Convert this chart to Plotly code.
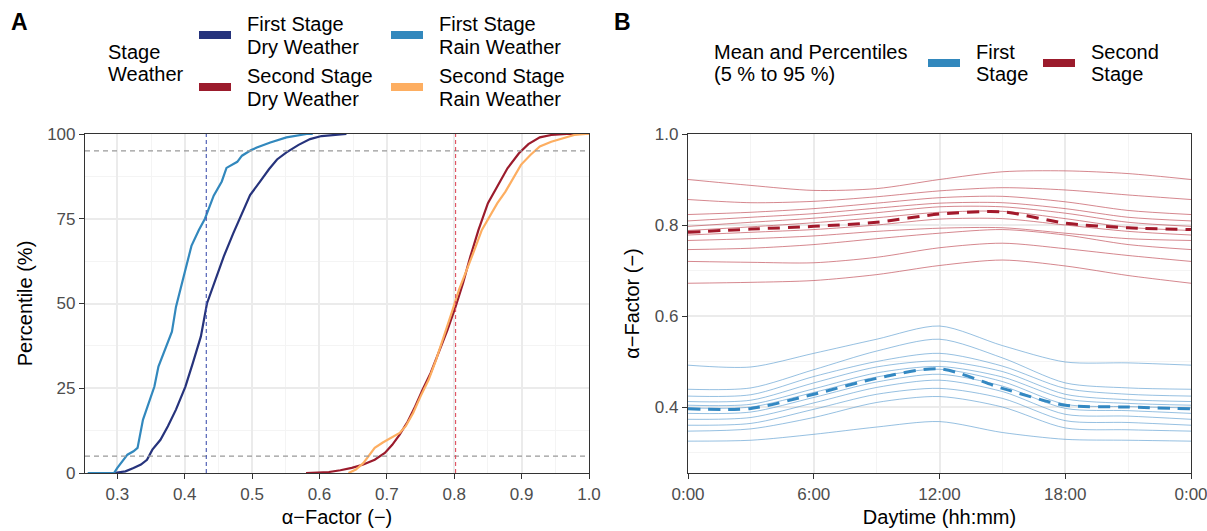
import plotly.graph_objects as go

W, H = 1207, 531

# ---------------- Panel A: cumulative distributions of the alpha factor ----------------
first_dry_x = [0.295, 0.312, 0.324, 0.335, 0.344, 0.352, 0.364, 0.375, 0.387, 0.401, 0.412, 0.424, 0.433,
               0.444, 0.458, 0.472, 0.486, 0.497, 0.512, 0.525, 0.537, 0.551, 0.569, 0.586, 0.603, 0.626, 0.640]
first_dry_p = [0, 0.5, 1.5, 2.5, 3.9, 6.9, 9.8, 13.8, 18.7, 25.5, 32.4, 40.3, 50,
               56, 63.9, 70.7, 77.0, 82, 86, 89.6, 92.5, 94.6, 96.8, 98.5, 99.4, 99.9, 100]

first_rain_x = [0.256, 0.295, 0.300, 0.307, 0.315, 0.324, 0.330, 0.338, 0.347, 0.355, 0.361, 0.369, 0.381,
                0.387, 0.400, 0.410, 0.421, 0.430, 0.443, 0.455, 0.462, 0.478, 0.485, 0.498, 0.507, 0.527,
                0.551, 0.570, 0.581, 0.590]
first_rain_p = [0, 0, 1.5, 3.4, 5.4, 6.4, 7.4, 15.7, 20.6, 25.5, 31.4, 35.4, 41.7,
                49, 59, 67, 71.7, 75, 81.8, 86, 90, 91.8, 93.6, 95.2, 96, 97.5,
                99, 99.5, 100, 100]

second_dry_x = [0.580, 0.614, 0.631, 0.648, 0.665, 0.682, 0.697, 0.708, 0.719, 0.731, 0.742, 0.753, 0.765,
                0.779, 0.790, 0.802, 0.813, 0.824, 0.836, 0.850, 0.865, 0.879, 0.896, 0.910, 0.927, 0.944,
                0.967, 1.000]
second_dry_p = [0, 0.3, 0.8, 1.5, 2.5, 3.9, 5.9, 8.3, 11.3, 15.2, 19.6, 24.6, 29.5,
                36.3, 42.2, 49.1, 56, 63.9, 71.7, 79.6, 85, 89.9, 94.3, 97, 99, 99.7,
                100, 100]

second_rain_x = [0.643, 0.654, 0.665, 0.674, 0.682, 0.694, 0.705, 0.719, 0.728, 0.739, 0.750, 0.762, 0.773,
                 0.785, 0.796, 0.807, 0.819, 0.830, 0.841, 0.853, 0.864, 0.876, 0.887, 0.899, 0.913, 0.927,
                 0.944, 0.961, 0.978, 0.995, 1.000]
second_rain_p = [0, 1, 2.9, 5.4, 7.4, 9, 10.3, 11.8, 13.8, 17.7, 22.6, 27.5, 33.4,
                 40.3, 47.2, 54, 59.9, 65.8, 71.7, 75.6, 79.6, 83, 86.9, 90.9, 93.8, 96.3,
                 97.7, 98.7, 99.7, 100, 100]

percentile_marks = [5, 95]           # horizontal reference levels (%)
stage_alpha = [0.432, 0.802]         # vertical reference alpha per stage

# ---------------- Panel B: daily course of alpha (mean and percentiles) ----------------
hours = [0, 3, 6, 9, 12, 15, 18, 21, 24]
hour_ticks = [0, 6, 12, 18, 24]
hour_labels = ["0:00", "6:00", "12:00", "18:00", "0:00"]

second_pct = {
    95: [0.900, 0.887, 0.876, 0.880, 0.900, 0.917, 0.919, 0.913, 0.900],
    90: [0.856, 0.849, 0.852, 0.862, 0.875, 0.882, 0.877, 0.866, 0.856],
    80: [0.823, 0.828, 0.836, 0.848, 0.860, 0.863, 0.851, 0.832, 0.823],
    70: [0.809, 0.817, 0.825, 0.837, 0.848, 0.849, 0.836, 0.817, 0.809],
    60: [0.797, 0.806, 0.815, 0.827, 0.840, 0.840, 0.826, 0.806, 0.797],
    50: [0.788, 0.796, 0.805, 0.816, 0.828, 0.830, 0.814, 0.795, 0.788],
    40: [0.778, 0.784, 0.790, 0.800, 0.813, 0.814, 0.800, 0.786, 0.778],
    30: [0.766, 0.770, 0.776, 0.786, 0.793, 0.794, 0.782, 0.770, 0.766],
    20: [0.746, 0.749, 0.757, 0.770, 0.782, 0.790, 0.778, 0.757, 0.746],
    10: [0.720, 0.718, 0.717, 0.729, 0.750, 0.760, 0.748, 0.733, 0.720],
    5:  [0.672, 0.674, 0.678, 0.691, 0.711, 0.723, 0.710, 0.689, 0.672],
}
second_mean = [0.784, 0.791, 0.797, 0.806, 0.824, 0.829, 0.804, 0.794, 0.790]

first_pct = {
    95: [0.492, 0.488, 0.518, 0.549, 0.578, 0.535, 0.499, 0.497, 0.492],
    90: [0.439, 0.442, 0.482, 0.523, 0.549, 0.508, 0.453, 0.442, 0.439],
    80: [0.424, 0.427, 0.467, 0.500, 0.518, 0.490, 0.441, 0.428, 0.424],
    70: [0.412, 0.415, 0.453, 0.488, 0.501, 0.478, 0.428, 0.416, 0.412],
    60: [0.404, 0.406, 0.440, 0.475, 0.489, 0.466, 0.418, 0.408, 0.404],
    50: [0.398, 0.400, 0.432, 0.466, 0.483, 0.456, 0.406, 0.401, 0.398],
    40: [0.386, 0.389, 0.421, 0.455, 0.472, 0.446, 0.397, 0.392, 0.386],
    30: [0.373, 0.377, 0.409, 0.443, 0.459, 0.434, 0.384, 0.380, 0.373],
    20: [0.360, 0.364, 0.395, 0.428, 0.441, 0.419, 0.370, 0.366, 0.360],
    10: [0.347, 0.352, 0.377, 0.410, 0.423, 0.400, 0.354, 0.350, 0.347],
    5:  [0.325, 0.327, 0.340, 0.356, 0.368, 0.344, 0.329, 0.327, 0.325],
}
first_mean = [0.396, 0.397, 0.428, 0.463, 0.484, 0.441, 0.404, 0.400, 0.396]

# ---------------- styling ----------------
NAVY = "#26337c"
SKY = "#3288bd"
CRIMSON = "#9b1b2c"
APRICOT = "#fdae61"
FONT = "Liberation Sans"
TICK_COL = "#4d4d4d"
GRID = "#ebebeb"
GRID_MINOR = "#f4f4f4"


def px_x(x):
    return x / W


def px_y(y):
    return 1 - y / H


fig = go.Figure()

for xs, ps, col, name in [
    (first_dry_x, first_dry_p, NAVY, "First Stage Dry Weather"),
    (first_rain_x, first_rain_p, SKY, "First Stage Rain Weather"),
    (second_dry_x, second_dry_p, CRIMSON, "Second Stage Dry Weather"),
    (second_rain_x, second_rain_p, APRICOT, "Second Stage Rain Weather"),
]:
    fig.add_trace(go.Scatter(x=xs, y=ps, mode="lines", name=name, showlegend=False,
                             line=dict(color=col, width=2.2), xaxis="x", yaxis="y"))

for lvl in percentile_marks:
    fig.add_shape(type="line", xref="x", yref="y", x0=0.252, x1=1.0, y0=lvl, y1=lvl,
                  line=dict(color="#999999", width=1.2, dash="5px,4px"), layer="above")
for a, col in zip(stage_alpha, ["#4455b0", "#e0505f"]):
    fig.add_shape(type="line", xref="x", yref="y", x0=a, x1=a, y0=0, y1=100,
                  line=dict(color=col, width=1.1, dash="4px,3px"), layer="above")

for pcts, mean, thin, thick in [
    (second_pct, second_mean, "rgba(190,70,82,0.65)", "#a3192b"),
    (first_pct, first_mean, "rgba(80,150,205,0.6)", "#3388c2"),
]:
    for p, vals in pcts.items():
        fig.add_trace(go.Scatter(x=hours, y=vals, mode="lines", showlegend=False,
                                 line=dict(color=thin, width=1, shape="spline", smoothing=0.8),
                                 xaxis="x2", yaxis="y2"))
    fig.add_trace(go.Scatter(x=hours, y=mean, mode="lines", showlegend=False,
                             line=dict(color=thick, width=3, dash="12px,8px", shape="spline", smoothing=0.8),
                             xaxis="x2", yaxis="y2"))

axis_common = dict(showline=True, linecolor="#333333", linewidth=1.2, mirror=True,
                   ticks="outside", ticklen=5, tickcolor="#333333", tickwidth=1.2,
                   showgrid=True, gridcolor=GRID, gridwidth=1.6, zeroline=False,
                   automargin=False, ticklabeloverflow="allow",
                   tickfont=dict(family=FONT, size=17, color=TICK_COL),
                   title_font=dict(family=FONT, size=20, color="#000000"))

xdomA = [px_x(85), px_x(589)]
xdomB = [px_x(688), px_x(1191)]
ydom = [px_y(473), px_y(134)]

fig.update_layout(
    width=W, height=H,
    margin=dict(l=0, r=0, t=0, b=0),
    paper_bgcolor="white", plot_bgcolor="white",
    template="none",
    showlegend=False,
    xaxis=dict(axis_common, domain=xdomA, range=[0.252, 1.0],
               tickvals=[0.3, 0.4, 0.5, 0.6, 0.7, 0.8, 0.9, 1.0],
               ticktext=["0.3", "0.4", "0.5", "0.6", "0.7", "0.8", "0.9", "1.0"],
               minor=dict(tickvals=[0.35, 0.45, 0.55, 0.65, 0.75, 0.85, 0.95], showgrid=True,
                          gridcolor=GRID_MINOR, gridwidth=1, ticks=""),
               title=dict(text="α−Factor (−)", standoff=7), anchor="y"),
    yaxis=dict(axis_common, domain=ydom, range=[0, 100],
               tickvals=[0, 25, 50, 75, 100],
               minor=dict(tickvals=[12.5, 37.5, 62.5, 87.5], showgrid=True,
                          gridcolor=GRID_MINOR, gridwidth=1, ticks=""),
               title=dict(text="Percentile (%)", standoff=9), anchor="x"),
    xaxis2=dict(axis_common, domain=xdomB, range=[0, 24],
                tickvals=hour_ticks, ticktext=hour_labels,
                minor=dict(tickvals=[3, 9, 15, 21], showgrid=True,
                           gridcolor=GRID_MINOR, gridwidth=1, ticks=""),
                title=dict(text="Daytime (hh:mm)", standoff=7), anchor="y2"),
    yaxis2=dict(axis_common, domain=ydom, range=[0.255, 1.0],
                tickvals=[0.4, 0.6, 0.8, 1.0], ticktext=["0.4", "0.6", "0.8", "1.0"],
                minor=dict(tickvals=[0.3, 0.5, 0.7, 0.9], showgrid=True,
                           gridcolor=GRID_MINOR, gridwidth=1, ticks=""),
                title=dict(text="α−Factor (−)", standoff=9), anchor="x2"),
)

# ---------------- panel tags and legends ----------------
notes = []
shapes = []


def text(x, y, s, size=20, bold=False, anchor="left"):
    notes.append(dict(x=px_x(x), y=px_y(y), xref="paper", yref="paper", text=f"<b>{s}</b>" if bold else s,
                      showarrow=False, xanchor=anchor, yanchor="middle",
                      font=dict(family=FONT, size=size, color="#000000")))


def key(x0, x1, yc, col):
    shapes.append(dict(type="rect", xref="paper", yref="paper", x0=px_x(x0), x1=px_x(x1),
                       y0=px_y(yc + 4), y1=px_y(yc - 4), fillcolor=col, line=dict(width=0)))


text(9, 22, "A", size=23, bold=True)
text(612, 22, "B", size=23, bold=True)

# legend of panel A
text(106, 52, "Stage")
text(106, 74, "Weather")
for (kx, tx), (ky, names), col in [
    ((199, 245), (35, ["First Stage", "Dry Weather"]), NAVY),
    ((199, 245), (87, ["Second Stage", "Dry Weather"]), CRIMSON),
    ((391, 437), (35, ["First Stage", "Rain Weather"]), SKY),
    ((391, 437), (87, ["Second Stage", "Rain Weather"]), APRICOT),
]:
    key(kx, kx + 32, ky, col)
    text(tx, ky - 11, names[0])
    text(tx, ky + 12, names[1])

# legend of panel B
text(712, 52, "Mean and Percentiles")
text(712, 74, "(5 % to 95 %)")
key(928, 960, 63, SKY)
text(974, 52, "First")
text(974, 74, "Stage")
key(1043, 1075, 63, CRIMSON)
text(1089, 52, "Second")
text(1089, 74, "Stage")

fig.update_layout(annotations=notes)
for s in shapes:
    fig.add_shape(**s)

fig.write_html("out.html")
